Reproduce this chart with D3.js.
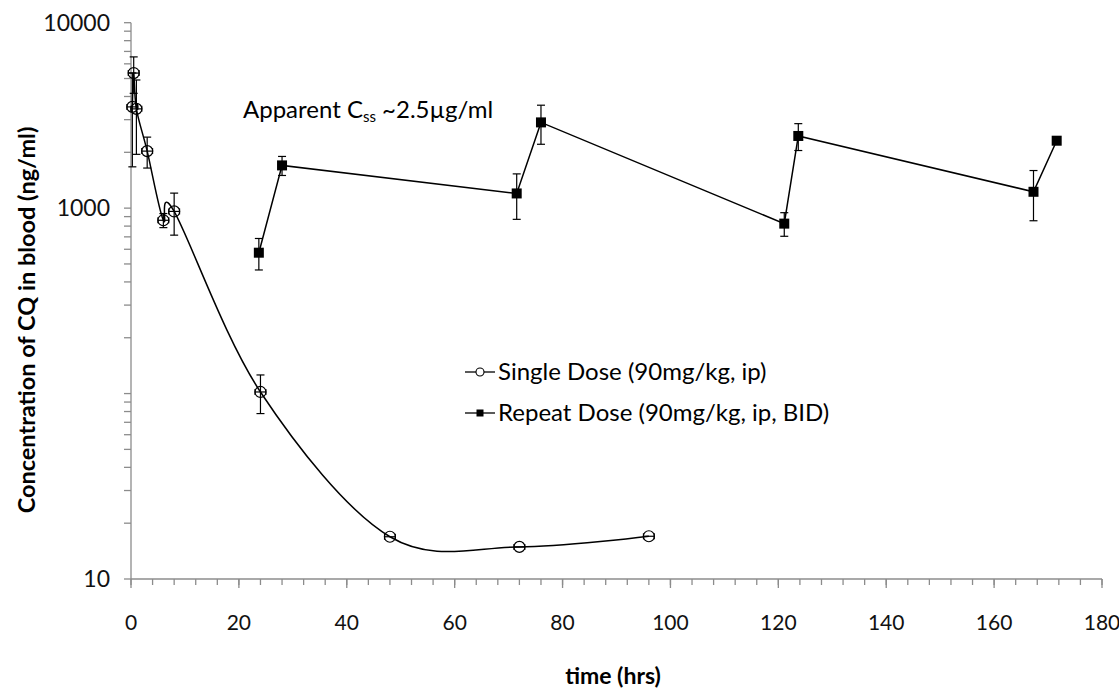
<!DOCTYPE html>
<html lang="en">
<head>
  <meta charset="UTF-8">
  <style>
    body {
      margin: 0;
      padding: 0;
      background: #ffffff;
      font-family: Lato, "Open Sans", sans-serif;
    }
    #chart {
      display: block;
    }
  </style>
</head>
<body>
  <svg id="chart"></svg>

  <script src="https://d3js.org/d3.v7.min.js"></script>
  <script>
    // single dose (open circles, smoothed line)
    let singleTime = [0.25, 0.5, 1, 3, 6, 8, 24, 48, 72, 96];
    let singleConc = [3515, 5350, 3430, 2030, 860, 960, 102, 16.9, 14.9, 17.0];
    let singleErr  = [1845, 1190, 1480, 385, 75, 245, 24, 0, 0, 0];
    let singleTimeErr = [1, 1, 1, 1, 1, 1, 1, 1, 1, 1];

    // repeat dose (filled squares, straight line)
    let repeatTime = [23.7, 28, 71.5, 76, 121.1, 123.7, 167.3, 171.6];
    let repeatConc = [575, 1700, 1200, 2900, 825, 2450, 1225, 2310];
    let repeatErr  = [111, 200, 330, 690, 120, 405, 370, 0];

    let xTicks = [0, 20, 40, 60, 80, 100, 120, 140, 160, 180];
    let yTickLabels = [10, 1000, 10000];

    let width = 1119, height = 689;
    let svg = d3.select("#chart").attr("width", width).attr("height", height);

    let x = d3.scaleLinear().domain([0, 180]).range([131, 1102]);
    let y = d3.scaleLog().domain([10, 10000]).range([579, 22.7]);

    let axisColor = "#8c8c8c";

    // y axis: line + log ticks (2..9 minor)
    let yMinor = [];
    for (let p = 10; p < 10000; p *= 10) {
      for (let k = 1; k < 10; k++) yMinor.push(p * k);
    }
    yMinor.push(10000);

    let gy = svg.append("g");
    gy.append("line")
      .attr("x1", x(0)).attr("x2", x(0))
      .attr("y1", y(10000)).attr("y2", y(10))
      .attr("stroke", axisColor).attr("stroke-width", 1.3);
    gy.selectAll(".yt").data(yMinor).enter().append("line")
      .attr("x1", x(0) - 7).attr("x2", x(0))
      .attr("y1", d => y(d)).attr("y2", d => y(d))
      .attr("stroke", axisColor).attr("stroke-width", 1.3);
    gy.selectAll(".yl").data(yTickLabels).enter().append("text")
      .attr("x", x(0) - 21)
      .attr("y", d => y(d))
      .attr("dy", "0.35em")
      .attr("text-anchor", "end")
      .attr("font-size", 23)
      .attr("fill", "#111")
      .text(d => d);

    // x axis
    let xMinor = d3.range(0, 181, 4);
    let gx = svg.append("g");
    gx.append("line")
      .attr("x1", x(0)).attr("x2", x(180))
      .attr("y1", y(10)).attr("y2", y(10))
      .attr("stroke", axisColor).attr("stroke-width", 1.3);
    gx.selectAll(".xm").data(xMinor).enter().append("line")
      .attr("x1", d => x(d)).attr("x2", d => x(d))
      .attr("y1", y(10)).attr("y2", y(10) + 6)
      .attr("stroke", axisColor).attr("stroke-width", 1.3);
    gx.selectAll(".xt").data(xTicks).enter().append("line")
      .attr("x1", d => x(d)).attr("x2", d => x(d))
      .attr("y1", y(10)).attr("y2", y(10) + 9)
      .attr("stroke", axisColor).attr("stroke-width", 1.3);
    gx.selectAll(".xl").data(xTicks).enter().append("text")
      .attr("x", d => x(d))
      .attr("y", 623)
      .attr("dy", "0.35em")
      .attr("text-anchor", "middle")
      .attr("font-size", 21)
      .attr("fill", "#111")
      .text(d => d);

    // axis titles
    svg.append("text")
      .attr("x", 613).attr("y", 676)
      .attr("dy", "0.35em")
      .attr("text-anchor", "middle")
      .attr("font-size", 23)
      .attr("font-weight", "bold")
      .text("time (hrs)");
    svg.append("text")
      .attr("transform", "translate(27,320) rotate(-90)")
      .attr("dy", "0.35em")
      .attr("text-anchor", "middle")
      .attr("font-size", 23.5)
      .attr("font-weight", "bold")
      .text("Concentration of CQ in blood (ng/ml)");

    let single = singleTime.map((t, i) => ({ t: t, c: singleConc[i], e: singleErr[i], te: singleTimeErr[i] }));
    let repeat = repeatTime.map((t, i) => ({ t: t, c: repeatConc[i], e: repeatErr[i] }));

    // error bars
    function drawErrY(g, data) {
      data.filter(d => d.e > 0).forEach(d => {
        let xx = x(d.t), y1 = y(d.c + d.e), y2 = y(Math.max(d.c - d.e, 10));
        g.append("line").attr("x1", xx).attr("x2", xx).attr("y1", y1).attr("y2", y2);
        g.append("line").attr("x1", xx - 4).attr("x2", xx + 4).attr("y1", y1).attr("y2", y1);
        g.append("line").attr("x1", xx - 4).attr("x2", xx + 4).attr("y1", y2).attr("y2", y2);
      });
    }
    let ge = svg.append("g").attr("stroke", "#000").attr("stroke-width", 1.2);
    drawErrY(ge, single);
    drawErrY(ge, repeat);
    single.forEach(d => {
      let yy = y(d.c), x1 = x(d.t - d.te), x2 = x(d.t + d.te);
      ge.append("line").attr("x1", x1).attr("x2", x2).attr("y1", yy).attr("y2", yy);
      ge.append("line").attr("x1", x1).attr("x2", x1).attr("y1", yy - 3).attr("y2", yy + 3);
      ge.append("line").attr("x1", x2).attr("x2", x2).attr("y1", yy - 3).attr("y2", yy + 3);
    });

    // lines
    let smooth = d3.line().x(d => x(d.t)).y(d => y(d.c)).curve(d3.curveCatmullRom.alpha(0));
    let straight = d3.line().x(d => x(d.t)).y(d => y(d.c));

    svg.append("path").datum(single)
      .attr("d", smooth)
      .attr("fill", "none").attr("stroke", "#000").attr("stroke-width", 1.5);
    svg.append("path").datum(repeat)
      .attr("d", straight)
      .attr("fill", "none").attr("stroke", "#000").attr("stroke-width", 1.5);

    // markers
    svg.append("g").selectAll("circle").data(single).enter().append("circle")
      .attr("cx", d => x(d.t)).attr("cy", d => y(d.c)).attr("r", 5.5)
      .attr("fill", "none").attr("stroke", "#000").attr("stroke-width", 1.2);
    svg.append("g").selectAll("rect").data(repeat).enter().append("rect")
      .attr("x", d => x(d.t) - 5).attr("y", d => y(d.c) - 5)
      .attr("width", 10).attr("height", 10)
      .attr("fill", "#000");

    // annotation
    let ann = svg.append("text")
      .attr("x", 243).attr("y", 118)
      .attr("font-size", 24);
    ann.append("tspan").text("Apparent C");
    ann.append("tspan").attr("font-size", 15).attr("dy", 4).text("ss");
    ann.append("tspan").attr("dy", -4).text(" ~2.5µg/ml");

    // legend
    let legend = [
      { label: "Single Dose (90mg/kg, ip)", y: 372, type: "circle" },
      { label: "Repeat Dose (90mg/kg, ip, BID)", y: 413, type: "square" }
    ];
    let gl = svg.append("g");
    legend.forEach(d => {
      gl.append("line").attr("x1", 465).attr("x2", 495).attr("y1", d.y).attr("y2", d.y)
        .attr("stroke", "#000").attr("stroke-width", 1.3);
      if (d.type == "circle") {
        gl.append("circle").attr("cx", 480).attr("cy", d.y).attr("r", 4)
          .attr("fill", "#fff").attr("stroke", "#000").attr("stroke-width", 1.1);
      } else {
        gl.append("rect").attr("x", 476.5).attr("y", d.y - 3.5).attr("width", 7).attr("height", 7)
          .attr("fill", "#000");
      }
      gl.append("text").attr("x", 498).attr("y", d.y).attr("dy", "0.35em")
        .attr("font-size", 24).text(d.label);
    });
  </script>
</body>
</html>
